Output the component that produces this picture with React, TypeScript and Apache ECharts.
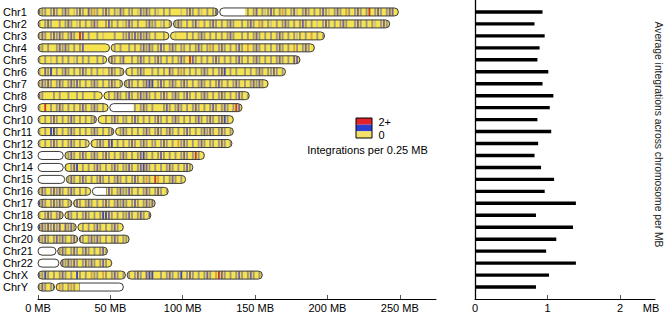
import React, { useEffect, useRef } from "react";
import * as echarts from "echarts";

const chromosomes = ["Chr1","Chr2","Chr3","Chr4","Chr5","Chr6","Chr7","Chr8","Chr9","Chr10","Chr11","Chr12","Chr13","Chr14","Chr15","Chr16","Chr17","Chr18","Chr19","Chr20","Chr21","Chr22","ChrX","ChrY"];
const lengthsMB = [249,243,198,191,181,171,159,146,141,135,135,134,115,107,102,90,81,78,59,63,48,51,155,59];
const centromereMB = [125,93,91,50,48,60,59,45,49,41,53,36,18,18,19,37,24,18,27,28,13,15,61,12];
// [row, startMB, endMB] of unmapped (white) regions
const whiteRegions = [[0,125,143],[8,49,66],[12,0,18],[13,0,18],[14,0,19],[15,37,47],[20,0,13],[21,0,15],[23,29,59]];
// integrations per bin (2 MB per character): . none, l faint, g low, p mid, b high, o/r 2+
const stripeCodes = [
  "pgg.gpg.gp g.lgpg.pgo g.gpg.glpg .gg.lpgpg. gl.g.g...l .gpg.gl.g. gp........ ..g.gp.glg pg.gog.gpl .gpg.g.gpg l.gpg.og.g pg.gr.gpg. gpp",
  "g.gpg..g.g pg.lg.g.gp g..gpg.g.l gpg.g..gpg g.lg.g.gpg .g.gpl.g.g pg.g.gpg.. g.gpg.og.g l.g.gpg.g. gpg.g.l.gp g.g.gpg..g pg.g.gl.gp gg",
  "gpg.gpgpg. gpg.rp.g.. g.l...g..g gpgpgpgpg. g..g.g.l.. .g.g.gpg.g .g.g.gpg.. g.g.gpg.g. g.gpg.g.gl g.g.o.g.gp",
  "pg.g..gpgp g.g.gp.... ......g.g. .g.g.gpgpg .gpg.gpg.g g.g.gpg.go g.gpg.g.gp g.o.gpg.g. g.gpg.g.og .gpg.g",
  "g.g.l.g.g. g.lg.g.g.. g.g.gpg.gp ..g.gpg.g. gpg.g.g.gp g.rpg.g.g. gpg.g.g.gp g.g.gpg.g. g.gpg.g.pp b",
  "g.pgb.g.gp g.g.gpg.g. g.l.gpg.gp g.g.gpg..g .g.g.pg.go g.g.g.gpg. g.gpb.g.g. .g.g.gpg.g gpg.g.",
  "gpgpg.gpg. gpgpg.g.gp g.g.gpg.g. gpg.g.gpbb .gpg.gpg.g pg.g.gpg.g .gpg.g.gpg .g.gpgpg.p",
  "pg...g.g.. g..g.g...g ..g.g.gpg. gpg.gpgpg. g.gpg.gpg. gpg.g.gpg. g.gpg.g.gp g.gpb",
  "g.r.g.gpg. g.g.gpg.gp g.g.gp.g.. ...g.gpg.g ...gpg.gpg .g.gpg.g.g pg.gpg.grp g",
  "g.g.gpg.g. gpg.g.g.gp g..g.gpg.g g.gpg.g.g. gpg.g.gpg. g.g.gpg.gp g.gpbg.g",
  "g.g.bbg.g. gpg.g.g.gp g.g.gpg.gp g.g.g.gpg. gpg.gpg.g. gpg.g.gpgp g.gpg.gp",
  "g.g.gpg.g. gpg.g.g.g. gpg.pb.g.g .gpg.gpg.g g.gpg.g.og pg.g.gpg.g g.gpg.g",
  ".........g gpg.gpg.gp g.gpg.g.gp g.g.gpbg.g .gpg.g.g.g pg.grg.gpg",
  ".........g .gpb.g.g.g pg.g.gpg.g gpg.gpbpg. g.g.gpg.g. gpg.",
  ".......... gpg.gpg.g. gpg.g.gpg. g.gpg.gog. ro.g.gpg.g",
  "gpg.gpgpg. gpg.g.g.gp ...gpg.gpg gpg.g.gpg. gpg.g",
  "bpg.gpgpg. gpgpg.gpg. g.gpg.gpgp g.gpg.gpgp p",
  "g.gpg.gpg. pg.g.gpg.g .gbbpg.g.g gpg.gpg.p",
  "bpgpgpgp.p gpgb.g.g.g pg.g.gpg.g",
  "pgpg.gpgpg .gpgpg.gpg pg.g.gpg.g gp",
  ".......gpg .gpg.gpg.g .gpg",
  ".......gpg pgpg.gpgpg .gpg.gp",
  "pgbg.g.gpg .g.bg.g.og g.og.gpg.g .g.gpg.pbb ..g.gpg.gb .gpg.g.gpg .orpg.g.gp g.gpg.gp",
  "gpg.gp.og.gog.g",
];
const avgPerMB = [0.93,0.82,0.96,0.89,0.86,1.01,0.93,1.08,1.03,0.86,1.05,0.87,0.82,0.91,1.09,0.96,1.39,0.84,1.35,1.12,0.98,1.39,1.02,0.84];
const mbTicks = [0,50,100,150,200,250];
const avgTicks = [0,1,2];
const legendLabels = ["2+","0"];

const BIN_MB = 2;
const STRIPE_MB = 1.3;
const YELLOW = "#f5e350";
const stripeColors: Record<string,string> = { l:"#d2c47a", g:"#9f9880", p:"#7a6399", b:"#4349b0", o:"#dca24a", r:"#c63c32" };
const FONT = "'Liberation Sans', Arial, Helvetica, sans-serif";

const codes = stripeCodes.map((s) => s.replace(/\s+/g, ""));

export default function App() {
  const ref = useRef<HTMLDivElement>(null);
  useEffect(() => {
    document.body.style.margin = "0";
    const chart = echarts.init(ref.current!, null, { renderer: "svg" });
    const arms: number[][] = [];
    lengthsMB.forEach((len, i) => {
      arms.push([i, 0, centromereMB[i]]);
      arms.push([i, centromereMB[i], len]);
    });
    const H = 8, R = 4;
    const option: any = {
      animation: false,
      grid: [
        { left: 37, top: 0, width: 399, height: 299 },
        { left: 475, top: 0, width: 180, height: 299 },
      ],
      xAxis: [
        {
          gridIndex: 0, type: "value", min: 0, max: 275, position: "bottom",
          axisLine: { show: true, onZero: false, lineStyle: { color: "#000", width: 1 } },
          axisTick: { show: true, inside: true, length: 4, customValues: mbTicks, lineStyle: { color: "#555" } },
          axisLabel: { customValues: mbTicks, formatter: (v: number) => `${v} MB`, fontSize: 11, color: "#000", margin: 3, fontFamily: FONT },
          splitLine: { show: false },
        },
        {
          gridIndex: 1, type: "value", min: 0, max: 2.48, position: "bottom",
          axisLine: { show: true, onZero: false, lineStyle: { color: "#000", width: 1 } },
          axisTick: { show: true, inside: true, length: 4, customValues: [1, 2], lineStyle: { color: "#555" } },
          axisLabel: { customValues: avgTicks, formatter: (v: number) => `${v}`, fontSize: 11, color: "#000", margin: 3, fontFamily: FONT },
          splitLine: { show: false },
        },
      ],
      yAxis: [
        {
          gridIndex: 0, type: "value", min: -1, max: 24, inverse: true,
          axisLine: { show: false, onZero: false }, axisTick: { show: false }, splitLine: { show: false },
          axisLabel: { customValues: chromosomes.map((_, i) => i), formatter: (v: number) => chromosomes[v] ?? "", align: "left", margin: 35, fontSize: 11, color: "#000", fontFamily: FONT },
        },
        {
          gridIndex: 1, type: "value", min: -1, max: 24, inverse: true,
          axisLine: { show: true, onZero: false, lineStyle: { color: "#000", width: 1.3 } },
          axisTick: { show: false }, axisLabel: { show: false }, splitLine: { show: false },
        },
      ],
      graphic: [
        { type: "rect", shape: { x: 356, y: 118, width: 16, height: 6.7 }, style: { fill: "#e3232b" } },
        { type: "rect", shape: { x: 356, y: 124.7, width: 16, height: 6.6 }, style: { fill: "#2d3fd0" } },
        { type: "rect", shape: { x: 356, y: 131.3, width: 16, height: 6.7 }, style: { fill: "#f2e06a" } },
        { type: "rect", shape: { x: 356, y: 118, width: 16, height: 20 }, style: { fill: "none", stroke: "#000", lineWidth: 1 } },
        { type: "text", x: 378.5, y: 122, style: { text: legendLabels[0], fontSize: 11, fontFamily: FONT, fill: "#000", align: "left", verticalAlign: "middle" } },
        { type: "text", x: 378.5, y: 134.5, style: { text: legendLabels[1], fontSize: 11, fontFamily: FONT, fill: "#000", align: "left", verticalAlign: "middle" } },
        { type: "text", x: 367.5, y: 149.5, style: { text: "Integrations per 0.25 MB", fontSize: 11, fontFamily: FONT, fill: "#000", align: "center", verticalAlign: "middle" } },
        { type: "text", x: 651, y: 307.5, style: { text: "MB", fontSize: 11, fontFamily: FONT, fill: "#000", align: "center", verticalAlign: "middle" } },
        { type: "text", x: 658, y: 134.5, rotation: -Math.PI / 2, style: { text: "Average integrations across chromosome per MB", fontSize: 10.3, fontFamily: FONT, fill: "#222", align: "center", verticalAlign: "middle" } },
      ],
      series: [
        {
          type: "custom", xAxisIndex: 0, yAxisIndex: 0, clip: false,
          data: arms, encode: { x: [1, 2], y: 0 },
          renderItem: (params: any, api: any) => {
            const row = api.value(0) as number;
            const s = api.value(1) as number;
            const e = api.value(2) as number;
            const len = lengthsMB[row];
            const p0 = api.coord([s, row]);
            const p1 = api.coord([e, row]);
            const cy = p0[1];
            const x0 = p0[0] + (s > 0 ? 0.8 : 0);
            const x1 = p1[0] - (e < len ? 0.8 : 0);
            const children: any[] = [];
            children.push({ type: "rect", shape: { x: x0, y: cy - H / 2, width: x1 - x0, height: H, r: R }, style: { fill: YELLOW } });
            const c = codes[row];
            for (let b = 0; b < c.length; b++) {
              const ch = c[b];
              if (ch === "." || !stripeColors[ch]) continue;
              const ms = b * BIN_MB + 0.35;
              const me = ms + STRIPE_MB;
              if (me <= s || ms >= e || ms >= len) continue;
              const xa = Math.max(api.coord([ms, row])[0], x0 + 0.6);
              const xb = Math.min(api.coord([me, row])[0], x1 - 0.6);
              if (xb <= xa) continue;
              const d = Math.min(xa - x0, x1 - xb);
              const half = d >= R ? H / 2 : Math.sqrt(Math.max(0, R * R - (R - d) * (R - d)));
              if (half < 0.5) continue;
              children.push({ type: "rect", shape: { x: xa, y: cy - half, width: xb - xa, height: half * 2 }, style: { fill: stripeColors[ch] } });
            }
            whiteRegions.forEach(([wr, ws, we]) => {
              if (wr !== row) return;
              const a = Math.max(ws, s), z = Math.min(we, e);
              if (z <= a) return;
              const xa = Math.max(api.coord([a, row])[0], x0);
              const xb = Math.min(api.coord([z, row])[0], x1);
              const rl = a <= s ? R : 0, rr = z >= e ? R : 0;
              children.push({ type: "rect", shape: { x: xa, y: cy - H / 2, width: xb - xa, height: H, r: [rl, rr, rr, rl] }, style: { fill: "#ffffff" } });
            });
            children.push({ type: "rect", shape: { x: x0, y: cy - H / 2, width: x1 - x0, height: H, r: R }, style: { fill: "none", stroke: "#3c3c3c", lineWidth: 1 } });
            return { type: "group", children };
          },
        },
        {
          type: "custom", xAxisIndex: 1, yAxisIndex: 1, clip: false,
          data: avgPerMB.map((v, i) => [i, v]), encode: { x: 1, y: 0 },
          renderItem: (params: any, api: any) => {
            const row = api.value(0) as number;
            const v = api.value(1) as number;
            const a = api.coord([0, row]);
            const b = api.coord([v, row]);
            return { type: "rect", shape: { x: a[0], y: a[1] - 1.7, width: b[0] - a[0], height: 3.4 }, style: { fill: "#000" } };
          },
        },
      ],
    };
    chart.setOption(option);
    return () => chart.dispose();
  }, []);
  return <div ref={ref} style={{ width: 666, height: 314 }} />;
}
